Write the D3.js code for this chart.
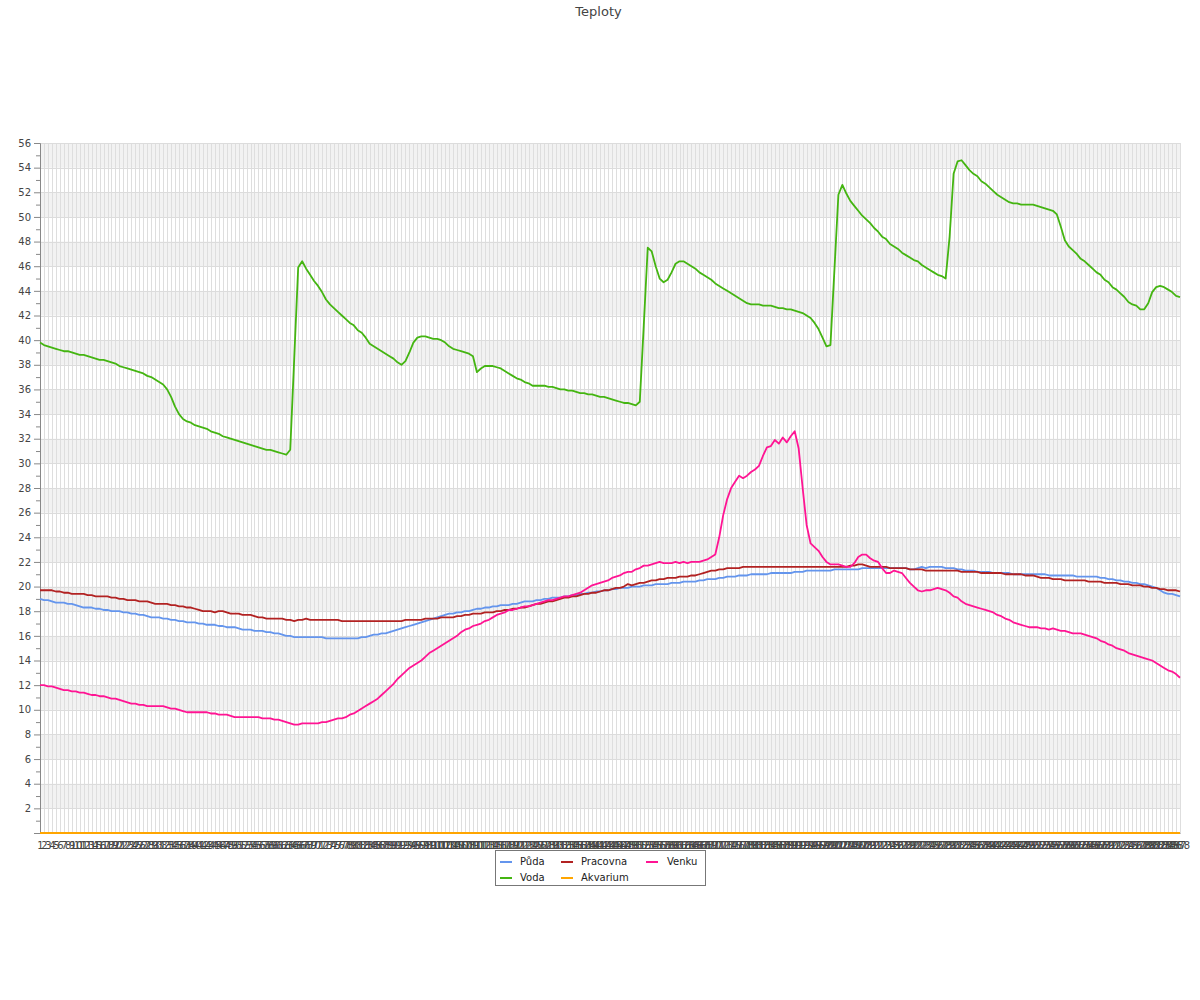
<!DOCTYPE html>
<html><head><meta charset="utf-8">
<script src="https://cdn.jsdelivr.net/npm/d3@7"></script>
<style>body{margin:0;background:#fff;font-family:"DejaVu Sans",sans-serif;}</style>
</head><body><svg id="c" width="1200" height="1000"></svg>
<script>
const title = "Teploty";
const seriesNames = ["Půda","Voda","Pracovna","Akvarium","Venku"];
const seriesColors = ["#6495ed","#44b511","#b22222","#ffa500","#ff1493"];
const categories = [1,2,3,4,5,6,7,8,9,10,11,12,13,14,15,16,17,18,19,20,21,22,23,24,25,26,27,28,29,30,31,32,33,34,35,36,37,38,39,40,41,42,43,44,45,46,47,48,49,50,51,52,53,54,55,56,57,58,59,60,61,62,63,64,65,66,67,68,69,70,71,72,73,74,75,76,77,78,79,80,81,82,83,84,85,86,87,88,89,90,91,92,93,94,95,96,97,98,99,100,101,102,103,104,105,106,107,108,109,110,111,112,113,114,115,116,117,118,119,120,121,122,123,124,125,126,127,128,129,130,131,132,133,134,135,136,137,138,139,140,141,142,143,144,145,146,147,148,149,150,151,152,153,154,155,156,157,158,159,160,161,162,163,164,165,166,167,168,169,170,171,172,173,174,175,176,177,178,179,180,181,182,183,184,185,186,187,188,189,190,191,192,193,194,195,196,197,198,199,200,201,202,203,204,205,206,207,208,209,210,211,212,213,214,215,216,217,218,219,220,221,222,223,224,225,226,227,228,229,230,231,232,233,234,235,236,237,238,239,240,241,242,243,244,245,246,247,248,249,250,251,252,253,254,255,256,257,258,259,260,261,262,263,264,265,266,267,268,269,270,271,272,273,274,275,276,277,278,279,280,281,282,283,284,285,286,287,288].map(String);
const yTicks = [2,4,6,8,10,12,14,16,18,20,22,24,26,28,30,32,34,36,38,40,42,44,46,48,50,52,54,56];

const puda = [19.0,18.9,18.9,18.8,18.7, 18.7,18.7,18.6,18.6,18.5, 18.4,18.3,18.3,18.3,18.2, 18.2,18.1,18.1,18.0,18.0,
18.0,17.9,17.9,17.8,17.8, 17.7,17.7,17.6,17.5,17.5, 17.5,17.4,17.4,17.3,17.3, 17.2,17.2,17.1,17.1,17.1,
17.0,17.0,16.9,16.9,16.9, 16.8,16.8,16.7,16.7,16.7, 16.6,16.5,16.5,16.5,16.4, 16.4,16.4,16.3,16.3,16.2,
16.2,16.1,16.0,16.0,15.9, 15.9,15.9,15.9,15.9,15.9, 15.9,15.9,15.8,15.8,15.8, 15.8,15.8,15.8,15.8,15.8,
15.8,15.9,15.9,16.0,16.1, 16.1,16.2,16.2,16.3,16.4, 16.5,16.6,16.7,16.8,16.9, 17.0,17.1,17.2,17.3,17.4,
17.5,17.6,17.7,17.8,17.8, 17.9,17.9,18.0,18.0,18.1, 18.2,18.2,18.3,18.3,18.4, 18.4,18.5,18.5,18.5,18.6,
18.6,18.7,18.8,18.8,18.8, 18.9,18.9,19.0,19.0,19.1, 19.1,19.1,19.2,19.2,19.3, 19.3,19.4,19.4,19.5,19.5,
19.6,19.6,19.7,19.7,19.8, 19.8,19.9,19.9,19.9,20.0, 20.0,20.0,20.1,20.1,20.1, 20.2,20.2,20.2,20.2,20.3,
20.3,20.3,20.4,20.4,20.4, 20.4,20.5,20.5,20.6,20.6, 20.6,20.7,20.7,20.8,20.8, 20.8,20.9,20.9,20.9,21.0,
21.0,21.0,21.0,21.0,21.1, 21.1,21.1,21.1,21.1,21.1, 21.2,21.2,21.2,21.3,21.3, 21.3,21.3,21.3,21.3,21.3,
21.4,21.4,21.4,21.4,21.4, 21.4,21.4,21.5,21.5,21.5, 21.5,21.5,21.5,21.5,21.5, 21.5,21.5,21.5,21.5,21.4,
21.4,21.5,21.6,21.5,21.6, 21.6,21.6,21.6,21.5,21.5, 21.5,21.4,21.4,21.3,21.3, 21.3,21.2,21.2,21.2,21.2,
21.1,21.1,21.1,21.1,21.1, 21.0,21.0,21.0,21.0,21.0, 21.0,21.0,21.0,21.0,20.9, 20.9,20.9,20.9,20.9,20.9,
20.9,20.8,20.8,20.8,20.8, 20.8,20.8,20.7,20.7,20.6, 20.6,20.5,20.5,20.4,20.4, 20.3,20.3,20.2,20.2,20.1,
20.0,19.9,19.7,19.5,19.4, 19.4,19.3,19.2];

const voda = [39.8,39.6,39.5,39.4,39.3, 39.2,39.1,39.1,39.0,38.9, 38.8,38.8,38.7,38.6,38.5, 38.4,38.4,38.3,38.2,38.1,
37.9,37.8,37.7,37.6,37.5, 37.4,37.3,37.1,37.0,36.8, 36.6,36.4,36.0,35.4,34.6, 34.0,33.6,33.4,33.3,33.1,
33.0,32.9,32.8,32.6,32.5, 32.4,32.2,32.1,32.0,31.9, 31.8,31.7,31.6,31.5,31.4, 31.3,31.2,31.1,31.1,31.0,
30.9,30.8,30.7,31.1,38.5, 45.9,46.4,45.8,45.3,44.8, 44.4,43.9,43.3,42.9,42.6, 42.3,42.0,41.7,41.4,41.2,
40.8,40.6,40.2,39.7,39.5, 39.3,39.1,38.9,38.7,38.5, 38.2,38.0,38.3,39.0,39.8, 40.2,40.3,40.3,40.2,40.1,
40.1,40.0,39.8,39.5,39.3, 39.2,39.1,39.0,38.9,38.7, 37.4,37.7,37.9,37.9,37.9, 37.8,37.7,37.5,37.3,37.1,
36.9,36.8,36.6,36.5,36.3, 36.3,36.3,36.3,36.2,36.2, 36.1,36.0,36.0,35.9,35.9, 35.8,35.7,35.7,35.6,35.6,
35.5,35.4,35.4,35.3,35.2, 35.1,35.0,34.9,34.9,34.8, 34.7,35.0,41.2,47.5,47.2, 46.0,45.0,44.7,44.9,45.5,
46.2,46.4,46.4,46.2,46.0, 45.8,45.5,45.3,45.1,44.9, 44.6,44.4,44.2,44.0,43.8, 43.6,43.4,43.2,43.0,42.9,
42.9,42.9,42.8,42.8,42.8, 42.7,42.6,42.6,42.5,42.5, 42.4,42.3,42.2,42.0,41.8, 41.4,40.9,40.2,39.5,39.6,
45.7,51.8,52.6,51.9,51.3, 50.9,50.5,50.1,49.8,49.5, 49.1,48.8,48.4,48.2,47.8, 47.6,47.4,47.1,46.9,46.7,
46.5,46.4,46.1,45.9,45.7, 45.5,45.3,45.2,45.0,48.4, 53.5,54.5,54.6,54.2,53.8, 53.5,53.3,52.9,52.7,52.4,
52.1,51.8,51.6,51.4,51.2, 51.1,51.1,51.0,51.0,51.0, 51.0,50.9,50.8,50.7,50.6, 50.5,50.2,49.2,48.1,47.6,
47.3,47.0,46.6,46.4,46.1, 45.8,45.5,45.3,44.9,44.7, 44.3,44.1,43.8,43.5,43.1, 42.9,42.8,42.5,42.5,43.0,
43.9,44.3,44.4,44.3,44.1, 43.9,43.6,43.5];

const pracovna = [19.7,19.7,19.7,19.7,19.6, 19.6,19.5,19.5,19.4,19.4, 19.4,19.4,19.3,19.3,19.2, 19.2,19.2,19.2,19.1,19.1,
19.0,19.0,18.9,18.9,18.9, 18.8,18.8,18.8,18.7,18.6, 18.6,18.6,18.6,18.5,18.5, 18.4,18.4,18.3,18.3,18.2,
18.1,18.0,18.0,18.0,17.9, 18.0,18.0,17.9,17.8,17.8, 17.8,17.7,17.7,17.7,17.6, 17.5,17.5,17.4,17.4,17.4,
17.4,17.4,17.3,17.3,17.2, 17.3,17.3,17.4,17.3,17.3, 17.3,17.3,17.3,17.3,17.3, 17.3,17.2,17.2,17.2,17.2,
17.2,17.2,17.2,17.2,17.2, 17.2,17.2,17.2,17.2,17.2, 17.2,17.2,17.3,17.3,17.3, 17.3,17.3,17.4,17.4,17.4,
17.4,17.5,17.5,17.5,17.5, 17.6,17.6,17.7,17.7,17.8, 17.8,17.8,17.9,17.9,17.9, 18.0,18.0,18.1,18.1,18.2,
18.2,18.3,18.3,18.4,18.5, 18.6,18.6,18.7,18.8,18.8, 18.9,19.0,19.1,19.1,19.2, 19.2,19.3,19.4,19.4,19.5,
19.5,19.6,19.7,19.7,19.8, 19.9,19.9,20.0,20.2,20.1, 20.2,20.3,20.3,20.4,20.5, 20.5,20.6,20.6,20.7,20.7,
20.7,20.8,20.8,20.8,20.9, 20.9,21.0,21.1,21.2,21.3, 21.3,21.4,21.4,21.5,21.5, 21.5,21.5,21.6,21.6,21.6,
21.6,21.6,21.6,21.6,21.6, 21.6,21.6,21.6,21.6,21.6, 21.6,21.6,21.6,21.6,21.6, 21.6,21.6,21.6,21.6,21.6,
21.6,21.6,21.6,21.6,21.7, 21.7,21.8,21.8,21.7,21.6, 21.6,21.6,21.6,21.6,21.5, 21.5,21.5,21.5,21.5,21.4,
21.4,21.4,21.4,21.3,21.3, 21.3,21.3,21.3,21.3,21.3, 21.3,21.3,21.2,21.2,21.2, 21.2,21.2,21.1,21.1,21.1,
21.1,21.1,21.1,21.0,21.0, 21.0,21.0,21.0,20.9,20.9, 20.9,20.8,20.7,20.7,20.7, 20.6,20.6,20.6,20.5,20.5,
20.5,20.5,20.5,20.5,20.4, 20.4,20.4,20.4,20.3,20.3, 20.3,20.3,20.2,20.2,20.2, 20.1,20.1,20.1,20.0,20.0,
19.9,19.9,19.8,19.8,19.7, 19.7,19.7,19.6];

const akvarium = [
0,0,0,0,0,0,0,0,0,0, 0,0,0,0,0,0,0,0,0,0, 0,0,0,0,0,0,0,0,0,0, 0,0,0,0,0,0,0,0,0,0,
0,0,0,0,0,0,0,0,0,0, 0,0,0,0,0,0,0,0,0,0, 0,0,0,0,0,0,0,0,0,0, 0,0,0,0,0,0,0,0,0,0,
0,0,0,0,0,0,0,0,0,0, 0,0,0,0,0,0,0,0,0,0, 0,0,0,0,0,0,0,0,0,0, 0,0,0,0,0,0,0,0,0,0,
0,0,0,0,0,0,0,0,0,0, 0,0,0,0,0,0,0,0,0,0, 0,0,0,0,0,0,0,0,0,0, 0,0,0,0,0,0,0,0,0,0,
0,0,0,0,0,0,0,0,0,0, 0,0,0,0,0,0,0,0,0,0, 0,0,0,0,0,0,0,0,0,0, 0,0,0,0,0,0,0,0,0,0,
0,0,0,0,0,0,0,0,0,0, 0,0,0,0,0,0,0,0,0,0, 0,0,0,0,0,0,0,0,0,0, 0,0,0,0,0,0,0,0,0,0,
0,0,0,0,0,0,0,0,0,0, 0,0,0,0,0,0,0,0,0,0, 0,0,0,0,0,0,0,0,0,0, 0,0,0,0,0,0,0,0,0,0,
0,0,0,0,0,0,0,0];

const venku = [12.0,12.0,11.9,11.9,11.8, 11.7,11.6,11.6,11.5,11.5, 11.4,11.4,11.3,11.2,11.2, 11.1,11.1,11.0,10.9,10.9,
10.8,10.7,10.6,10.5,10.5, 10.4,10.4,10.3,10.3,10.3, 10.3,10.3,10.2,10.1,10.1, 10.0,9.9,9.8,9.8,9.8,
9.8,9.8,9.8,9.7,9.7, 9.6,9.6,9.6,9.5,9.4, 9.4,9.4,9.4,9.4,9.4, 9.4,9.3,9.3,9.3,9.2,
9.2,9.1,9.0,8.9,8.8, 8.8,8.9,8.9,8.9,8.9, 8.9,9.0,9.0,9.1,9.2, 9.3,9.3,9.4,9.6,9.7,
9.9,10.1,10.3,10.5,10.7, 10.9,11.2,11.5,11.8,12.1, 12.5,12.8,13.1,13.4,13.6, 13.8,14.0,14.3,14.6,14.8,
15.0,15.2,15.4,15.6,15.8, 16.0,16.3,16.5,16.6,16.8, 16.9,17.0,17.2,17.3,17.5, 17.7,17.8,17.9,18.1,18.1,
18.2,18.3,18.4,18.4,18.5, 18.6,18.7,18.8,18.9,18.9, 19.0,19.1,19.2,19.2,19.3, 19.4,19.5,19.7,19.9,20.1,
20.2,20.3,20.4,20.5,20.7, 20.8,20.9,21.1,21.2,21.2, 21.4,21.5,21.7,21.7,21.8, 21.9,22.0,21.9,21.9,21.9,
22.0,21.9,22.0,21.9,22.0, 22.0,22.0,22.1,22.2,22.4, 22.6,24.0,25.8,27.1,28.0, 28.5,29.0,28.8,29.0,29.3,
29.5,29.8,30.6,31.3,31.4, 31.9,31.6,32.1,31.7,32.2, 32.6,31.2,28.0,25.0,23.5, 23.2,22.9,22.4,22.0,21.8,
21.8,21.8,21.7,21.6,21.6, 21.9,22.4,22.6,22.6,22.3, 22.1,22.0,21.5,21.1,21.1, 21.3,21.2,21.1,20.7,20.3,
20.0,19.7,19.6,19.7,19.7, 19.8,19.9,19.8,19.7,19.5, 19.2,19.1,18.8,18.6,18.5, 18.4,18.3,18.2,18.1,18.0,
17.9,17.7,17.6,17.4,17.3, 17.1,17.0,16.9,16.8,16.7, 16.7,16.7,16.6,16.6,16.5, 16.6,16.5,16.4,16.4,16.3,
16.2,16.2,16.2,16.1,16.0, 15.9,15.8,15.6,15.5,15.3, 15.2,15.0,14.9,14.8,14.6, 14.5,14.4,14.3,14.2,14.1,
14.0,13.8,13.6,13.4,13.2, 13.1,12.9,12.6];

const seriesData = [puda, voda, pracovna, akvarium, venku];

const svg = d3.select("#c");
const L = 40, R = 1180, T = 143, B = 833;
const x = d3.scalePoint().domain(categories).range([L, R]);
const y = d3.scaleLinear().domain([0, 56]).range([B, T]);

// background bands
const g = svg.append("g");
g.selectAll("rect.band").data(yTicks.filter((v, i) => i % 2 === 0))
  .join("rect").attr("class", "band")
  .attr("x", L).attr("width", R - L)
  .attr("y", d => y(d + 2)).attr("height", d => y(d) - y(d + 2))
  .attr("fill", "#f2f2f2");

// vertical grid
g.selectAll("line.vg").data(categories).join("line")
  .attr("x1", d => Math.round(x(d)) + 0.5).attr("x2", d => Math.round(x(d)) + 0.5)
  .attr("y1", T).attr("y2", B)
  .attr("stroke", "#dedede").attr("stroke-width", 1);

// horizontal grid
g.selectAll("line.hg").data(yTicks).join("line")
  .attr("x1", L).attr("x2", R)
  .attr("y1", d => Math.round(y(d)) + 0.5).attr("y2", d => Math.round(y(d)) + 0.5)
  .attr("stroke", "#dcdcdc").attr("stroke-width", 1);

// y axis minor
const yMinor = d3.axisLeft(y).tickValues(d3.range(1, 56, 2)).tickSize(4).tickFormat("");
svg.append("g").attr("transform", `translate(${L},0)`).call(yMinor)
  .call(s => s.select(".domain").remove())
  .call(s => s.selectAll("line").attr("stroke", "#888"));
// y axis major
const yAxis = d3.axisLeft(y).tickValues(yTicks).tickSize(6).tickPadding(3);
svg.append("g").attr("transform", `translate(${L},0)`).call(yAxis)
  .call(s => s.select(".domain").attr("stroke", "#888"))
  .call(s => s.selectAll("line").attr("stroke", "#888"))
  .call(s => s.selectAll("text").attr("fill", "#444").attr("font-size", 10).attr("font-family", "DejaVu Sans"));

// x axis
const xAxis = d3.axisBottom(x).tickSize(0).tickPadding(9);
svg.append("g").attr("transform", `translate(0,${B})`).call(xAxis)
  .call(s => s.select(".domain").attr("stroke", "#888"))
  .call(s => s.selectAll("text").attr("fill", "#444").attr("font-size", 10).attr("font-family", "DejaVu Sans"));

// lines
const line = d3.line().x((d, i) => x(categories[i])).y(d => y(d));
seriesData.forEach((s, k) => {
  svg.append("path").datum(s)
    .attr("fill", "none").attr("stroke", seriesColors[k])
    .attr("stroke-width", 1.8).attr("stroke-linejoin", "round")
    .attr("d", line);
});

// title
svg.append("text").attr("x", 598.5).attr("y", 15.5).attr("text-anchor", "middle")
  .attr("font-size", 13).attr("fill", "#444").attr("font-family", "DejaVu Sans").text(title);

// legend
const lg = svg.append("g");
lg.append("rect").attr("x", 495.5).attr("y", 850.5).attr("width", 210).attr("height", 35)
  .attr("fill", "#fff").attr("stroke", "#777");
const legendPos = [[500, 861], [500, 877], [561, 861], [561, 877], [646, 861]];
const legendTextX = [520, 520, 581, 581, 667];
seriesNames.forEach((n, k) => {
  const [lx, ly] = legendPos[k];
  lg.append("line").attr("x1", lx).attr("x2", lx + 12).attr("y1", ly + 1).attr("y2", ly + 1)
    .attr("stroke", seriesColors[k]).attr("stroke-width", 2);
  lg.append("text").attr("x", legendTextX[k]).attr("y", ly).attr("dy", "0.35em")
    .attr("font-size", 10).attr("fill", "#222").attr("font-family", "DejaVu Sans").text(n);
});
</script></body></html>
